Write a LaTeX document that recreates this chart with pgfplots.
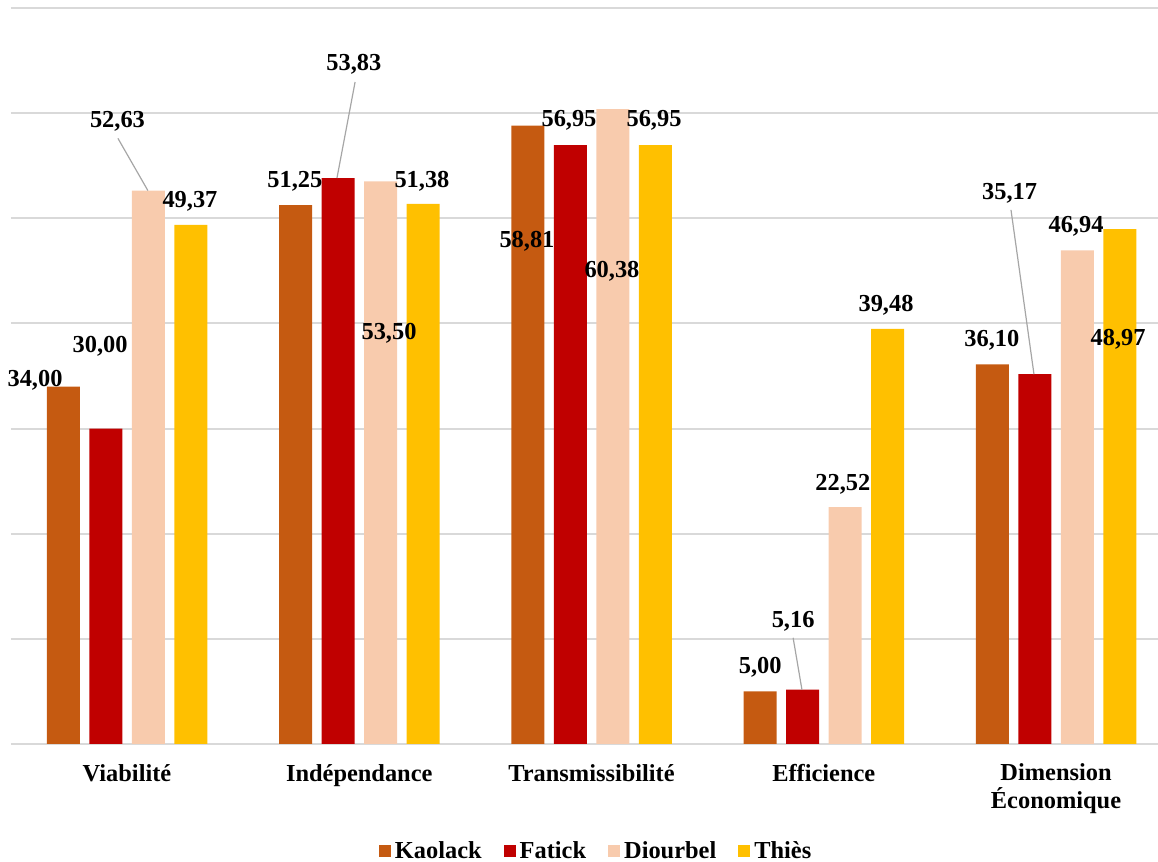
\documentclass[border=0pt]{standalone}
\usepackage{fontspec}
\setmainfont{Liberation Serif}
\usepackage{pgfplots}
\pgfplotsset{compat=1.18}
\definecolor{kao}{HTML}{C55A11}
\definecolor{fat}{HTML}{C00000}
\definecolor{dio}{HTML}{F8CBAD}
\definecolor{thi}{HTML}{FFC000}
\definecolor{gridc}{HTML}{D9D9D9}
\newcommand\lbl{\fontsize{12.2}{14}\selectfont\bfseries}
\begin{document}
\begin{tikzpicture}
\useasboundingbox (0,0) rectangle (579pt,431pt);
\begin{axis}[
  at={(5.5pt,59pt)}, anchor=south west,
  width=573.5pt, height=368pt, scale only axis,
  xmin=-0.4995, xmax=4.439, ymin=0, ymax=70,
  ybar=4.75pt, bar width=16.5pt,
  axis line style={draw=none},
  xtick={0,1,2,3,4},
  xticklabels={Viabilité,Indépendance,Transmissibilité,Efficience,{Dimension\\Économique}},
  xticklabel style={font=\lbl, align=center, yshift=-6.5pt},
  major tick length=0pt,
  ytick={0,10,...,70}, yticklabels={},
  ymajorgrids, grid style={draw=gridc, line width=1pt},
  clip=false,
  legend style={at={(0.511,-0.146)}, anchor=center, legend columns=4, draw=none,
    fill=none, inner sep=0pt, nodes={inner ysep=1pt},
    font=\lbl, /tikz/every even column/.append style={column sep=9pt}},
  legend image code/.code={\fill[#1] (0pt,-3pt) rectangle (6pt,3pt);},
]
\addplot[fill=kao, draw=none] coordinates {(0,34.00)(1,51.25)(2,58.81)(3,5.00)(4,36.10)};
\addplot[fill=fat, draw=none] coordinates {(0,30.00)(1,53.83)(2,56.95)(3,5.16)(4,35.17)};
\addplot[fill=dio, draw=none] coordinates {(0,52.63)(1,53.50)(2,60.38)(3,22.52)(4,46.94)};
\addplot[fill=thi, draw=none] coordinates {(0,49.37)(1,51.38)(2,56.95)(3,39.48)(4,48.97)};
\legend{Kaolack,Fatick,Diourbel,Thiès}
% data labels
\begin{scope}[every node/.style={font=\lbl, inner sep=0pt}]
\node at (axis cs:-0.396,34.6) {34,00};
\node at (axis cs:-0.116,37.8) {30,00};
\node at (axis cs:-0.041,59.2) {52,63};
\node at (axis cs:0.271,51.6) {49,37};
\node at (axis cs:0.723,53.5) {51,25};
\node at (axis cs:0.977,64.6) {53,83};
\node at (axis cs:1.128,39.1) {53,50};
\node at (axis cs:1.270,53.5) {51,38};
\node at (axis cs:1.722,47.8) {58,81};
\node at (axis cs:1.903,59.3) {56,95};
\node at (axis cs:2.088,45.0) {60,38};
\node at (axis cs:2.269,59.3) {56,95};
\node at (axis cs:2.726,7.3) {5,00};
\node at (axis cs:2.868,11.7) {5,16};
\node at (axis cs:3.082,24.7) {22,52};
\node at (axis cs:3.268,41.75) {39,48};
\node at (axis cs:3.724,38.4) {36,10};
\node at (axis cs:3.800,52.4) {35,17};
\node at (axis cs:4.086,49.2) {46,94};
\node at (axis cs:4.267,38.5) {48,97};
\end{scope}
\begin{scope}[draw=gray!70, line width=0.6pt]
\draw (axis cs:-0.039,57.6) -- (axis cs:0.090,52.63);
\draw (axis cs:0.982,62.96) -- (axis cs:0.904,53.83);
\draw (axis cs:2.868,10.1) -- (axis cs:2.906,5.16);
\draw (axis cs:3.806,50.8) -- (axis cs:3.905,35.17);
\end{scope}
\end{axis}
\end{tikzpicture}
\end{document}
